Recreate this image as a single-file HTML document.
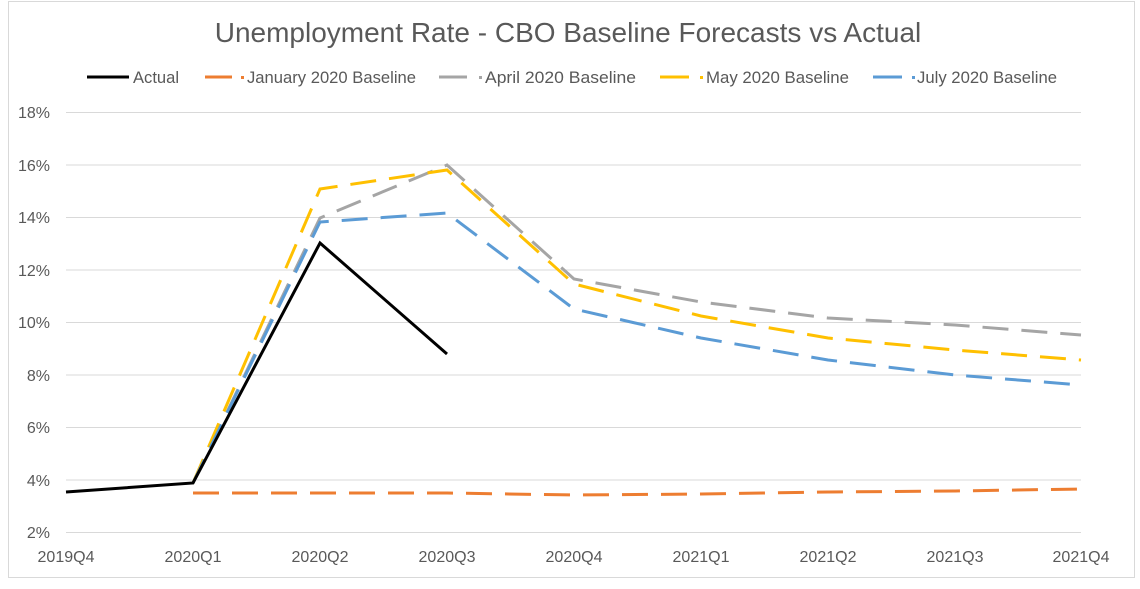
<!DOCTYPE html>
<html><head><meta charset="utf-8"><style>body{margin:0;background:#fff}</style></head>
<body>
<svg width="1140" height="584" viewBox="0 0 1140 584" xmlns="http://www.w3.org/2000/svg" font-family="Liberation Sans, sans-serif">
<rect x="8.5" y="1.5" width="1126" height="576" fill="#fff" stroke="#d9d9d9"/>
<text x="568" y="42" text-anchor="middle" font-size="28" fill="#595959">Unemployment Rate - CBO Baseline Forecasts vs Actual</text>
<g font-size="17" fill="#595959">
<line x1="87" y1="77" x2="129" y2="77" stroke="#000" stroke-width="3"/><text x="133" y="83" textLength="46" lengthAdjust="spacingAndGlyphs">Actual</text>
<line x1="205" y1="77" x2="232" y2="77" stroke="#ed7d31" stroke-width="3"/><rect x="241" y="76" width="3" height="3" fill="#ed7d31"/><text x="247" y="83" textLength="169" lengthAdjust="spacingAndGlyphs">January 2020 Baseline</text>
<line x1="439" y1="77" x2="467" y2="77" stroke="#a5a5a5" stroke-width="3"/><rect x="479" y="76" width="3" height="3" fill="#a5a5a5"/><text x="485" y="83" textLength="151" lengthAdjust="spacingAndGlyphs">April 2020  Baseline</text>
<line x1="660" y1="77" x2="689" y2="77" stroke="#ffc000" stroke-width="3"/><rect x="700" y="76" width="3" height="3" fill="#ffc000"/><text x="706" y="83" textLength="143" lengthAdjust="spacingAndGlyphs">May 2020 Baseline</text>
<line x1="873" y1="77" x2="902" y2="77" stroke="#5b9bd5" stroke-width="3"/><rect x="912" y="76" width="3" height="3" fill="#5b9bd5"/><text x="917" y="83" textLength="140" lengthAdjust="spacingAndGlyphs">July 2020 Baseline</text>
</g>
<g stroke="#d9d9d9" stroke-width="1">
<line x1="66" x2="1081" y1="112.5" y2="112.5"/><line x1="66" x2="1081" y1="165" y2="165"/><line x1="66" x2="1081" y1="217.5" y2="217.5"/><line x1="66" x2="1081" y1="270" y2="270"/><line x1="66" x2="1081" y1="322.5" y2="322.5"/><line x1="66" x2="1081" y1="375" y2="375"/><line x1="66" x2="1081" y1="427.5" y2="427.5"/><line x1="66" x2="1081" y1="480" y2="480"/><line x1="66" x2="1081" y1="532.5" y2="532.5"/>
</g>
<g font-size="16" fill="#595959" text-anchor="end">
<text x="50" y="118">18%</text><text x="50" y="171">16%</text><text x="50" y="223">14%</text><text x="50" y="276">12%</text><text x="50" y="328">10%</text><text x="50" y="381">8%</text><text x="50" y="433">6%</text><text x="50" y="486">4%</text><text x="50" y="538">2%</text>
</g>
<g font-size="16" fill="#595959" text-anchor="middle">
<text x="66" y="562">2019Q4</text><text x="193" y="562">2020Q1</text><text x="320" y="562">2020Q2</text><text x="447" y="562">2020Q3</text><text x="574" y="562">2020Q4</text><text x="701" y="562">2021Q1</text><text x="828" y="562">2021Q2</text><text x="955" y="562">2021Q3</text><text x="1081" y="562">2021Q4</text>
</g>
<g fill="none" stroke-width="3" stroke-dasharray="26,13">
<polyline stroke="#ed7d31" points="193,493 320,493 447,493 574,495 701,494 828,492 955,491 1081,489"/>
<polyline stroke="#a5a5a5" points="193,483 320,218 447,165 574,279 701,302 828,318 955,325 1081,335"/>
<polyline stroke="#ffc000" points="193,483 320,189 447,170 574,284 701,316 828,338 955,350 1081,360"/>
<polyline stroke="#5b9bd5" points="193,483 320,222 447,213 574,309 701,338 828,360 955,375 1081,385"/>
</g>
<polyline fill="none" stroke="#000" stroke-width="3" points="66,492 193,483 320,243 447,354"/>
</svg>
</body></html>
